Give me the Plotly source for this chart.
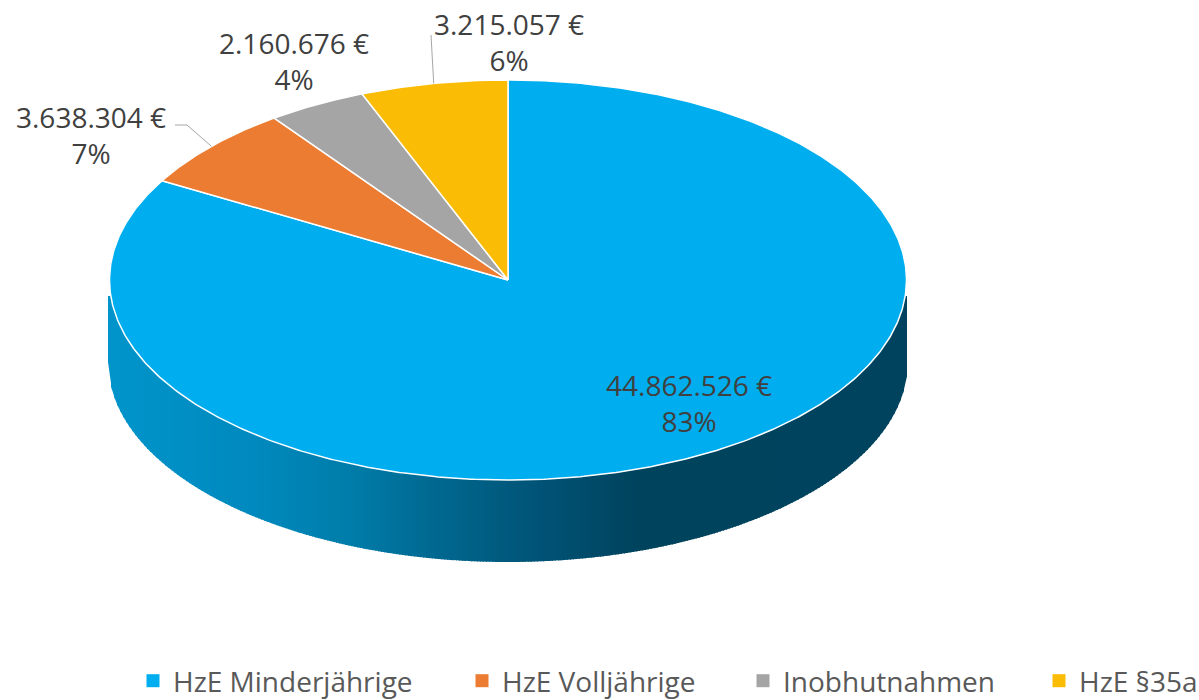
import math
import numpy as np
import plotly.graph_objects as go

categories = ["HzE Minderjährige", "HzE Volljährige", "Inobhutnahmen", "HzE §35a"]
values = [44862526, 3638304, 2160676, 3215057]
colors = ["#00AEEF", "#EB7C31", "#A5A5A5", "#FBBC05"]

# canvas is a little larger than the window so the legend row does not push the plot margins
W, H = 1215, 720
CX, CY, RX, RY, DEPTH = 508, 280, 398.5, 200, 82
FONT = "Open Sans"
LABEL_SIZE = 28
LEGEND_SIZE = 28

side_stops = [(108, "#0095CB"), (250, "#008ABF"), (350, "#007DAA"), (430, "#006A92"),
              (510, "#00597D"), (560, "#005072"), (640, "#00435D"), (909, "#00435F")]

# placement of each label: centre x, centre y, leader elbow points (None = no leader)
label_pos = [(689, 403, None), (91, 135, [(175, 125), (187, 125)]),
             (294, 61, None), (509, 42, [(431, 35)])]
legend_x = [133, 462, 743, 1039]


def hex2rgb(h):
    return [int(h[i:i + 2], 16) for i in (1, 3, 5)]


def side_color(x):
    xs = [s[0] for s in side_stops]
    cs = np.array([hex2rgb(s[1]) for s in side_stops], float)
    return "rgb(%d,%d,%d)" % tuple(np.interp(x, xs, cs[:, k]) for k in range(3))


def pt(t):
    return CX + RX * math.sin(t), CY - RY * math.cos(t)


fig = go.Figure()

# side wall: narrow vertical bands, following the lower rim of the ellipse
SRX = 400
edges = np.arange(CX - SRX, CX + SRX + 0.01, 3.0)
for a, b in zip(edges[:-1], edges[1:]):
    b2 = min(b + 1, CX + SRX)
    low = lambda x: CY + DEPTH + RY * math.sqrt(max(0, 1 - ((x - CX) / SRX) ** 2))
    top = CY + 16
    fig.add_trace(go.Scatter(x=[a, b2, b2, a, a], y=[top, top, low(b2), low(a), top],
                             mode="lines", fill="toself", line=dict(width=0),
                             fillcolor=side_color((a + b) / 2), showlegend=False, hoverinfo="skip"))

# top face: wedges measured clockwise from 12 o'clock
total = sum(values)
start = 0.0
mids = []
for name, val, col in zip(categories, values, colors):
    sweep = val / total * 2 * math.pi
    ts = np.linspace(start, start + sweep, max(8, int(sweep * 120)))
    pts = [pt(t) for t in ts]
    xs = [CX] + [p[0] for p in pts] + [CX]
    ys = [CY] + [p[1] for p in pts] + [CY]
    fig.add_trace(go.Scatter(x=xs, y=ys, mode="lines", fill="toself", fillcolor=col,
                             line=dict(color="white", width=1.5), showlegend=False,
                             name=name, hoverinfo="name"))
    mids.append(start + sweep / 2)
    start += sweep

# data labels and leader lines
for i, (val, mid, (lx, ly, elbow)) in enumerate(zip(values, mids, label_pos)):
    text = f"{val:,}".replace(",", ".") + " €<br>" + f"{val / total * 100:.0f}%"
    fig.add_annotation(x=lx, y=ly, xref="x", yref="y", text=text, showarrow=False,
                       font=dict(family=FONT, size=LABEL_SIZE, color="#404040"),
                       align="center", xanchor="center", yanchor="middle")
    if elbow:
        ex, ey = pt(mid)
        fig.add_trace(go.Scatter(x=[p[0] for p in elbow] + [ex], y=[p[1] for p in elbow] + [ey],
                                 mode="lines", line=dict(color="#A6A6A6", width=1),
                                 showlegend=False, hoverinfo="skip"))

# legend: one legend per entry so each one sits where the reference has it
layout_legends = {}
for i, (name, col, lgx) in enumerate(zip(categories, colors, legend_x)):
    key = "legend" if i == 0 else f"legend{i + 1}"
    fig.add_trace(go.Scatter(x=[None], y=[None], mode="markers", name=name, legend=key,
                             marker=dict(symbol="square", size=13, color=col)))
    layout_legends[key] = dict(x=lgx / W, y=1 - 681 / H, xanchor="left", yanchor="middle",
                               orientation="h", bgcolor="rgba(0,0,0,0)",
                               itemwidth=30,
                               font=dict(family=FONT, size=LEGEND_SIZE, color="#595959"))

fig.update_layout(
    width=W, height=H, margin=dict(l=0, r=0, t=0, b=0),
    paper_bgcolor="white", plot_bgcolor="white",
    xaxis=dict(range=[0, W], visible=False, fixedrange=True),
    yaxis=dict(range=[H, 0], visible=False, fixedrange=True),
    **layout_legends,
)
fig.write_html("out.html", config={"displayModeBar": False},
               post_script="document.body.style.margin='0';document.documentElement.style.overflow='hidden';")
